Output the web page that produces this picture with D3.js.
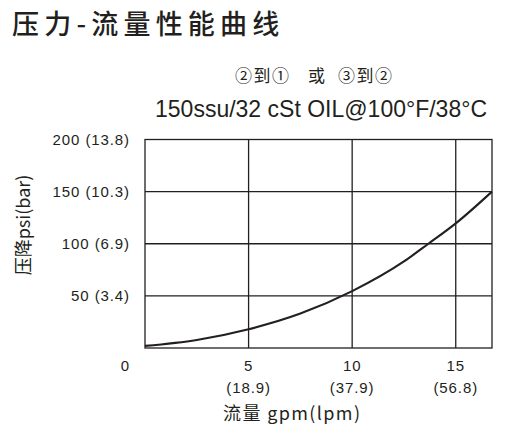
<!DOCTYPE html>
<html>
<head>
<meta charset="utf-8">
<script src="https://cdn.jsdelivr.net/npm/d3@7/dist/d3.min.js"></script>
<style>
html,body{margin:0;padding:0;background:#fff;}
svg{display:block;}
</style>
</head>
<body>
<svg id="chart" width="521" height="440"></svg>
<script>
// ---- data ----
const flowGpm   = [0, 2.5, 5, 7.5, 10, 12.5, 13.68, 15, 16.75];
const pressPsi  = [2, 7.7, 18, 33, 54.5, 83, 100, 119.5, 150];
const xTicks    = [5, 10, 15];
const xTickSub  = ["(18.9)", "(37.9)", "(56.8)"];
const yTicks    = [50, 100, 150, 200];
const yTickLabels = ["50 (3.4)", "100 (6.9)", "150 (10.3)", "200 (13.8)"];
const titleText = "压力-流量性能曲线";
const subTitle1Parts = ["②到①", "或", "③到②"];
const subTitle2 = "150ssu/32 cSt OIL@100°F/38°C";
const xTitle    = "流量 gpm(lpm)";
const yTitle    = "压降psi(bar)";

const ink = "#231f20";
const svg = d3.select("#chart");
const L = 145, R = 492, T = 139.5, B = 348;
const x = d3.scaleLinear().domain([0, 16.75]).range([L, R]);
const y = d3.scaleLinear().domain([0, 200]).range([B, T]);

const cjk = "'Noto Sans CJK SC', 'Noto Sans', sans-serif";
const lat = "'Liberation Sans', Arial, sans-serif";

// title
svg.append("text").attr("x", 12).attr("y", 34)
  .attr("font-family", cjk).attr("font-weight", 500)
  .attr("font-size", 27).attr("letter-spacing", 5.2).attr("fill", ink)
  .text(titleText);

// subtitle line 1 (three parts)
const st1 = svg.append("text").attr("y", 82)
  .attr("font-family", cjk).attr("font-size", 17).attr("fill", ink)
  .attr("letter-spacing", 1.5);
const st1x = [235, 308, 338];
subTitle1Parts.forEach((t, i) => st1.append("tspan").attr("x", st1x[i]).text(t));

svg.append("text").attr("x", 155).attr("y", 117)
  .attr("font-family", lat).attr("font-size", 24).attr("fill", ink)
  .attr("textLength", 332).attr("lengthAdjust", "spacingAndGlyphs")
  .text(subTitle2);

// grid
const g = svg.append("g").attr("stroke", ink).attr("stroke-width", 1.3).attr("fill", "none");
g.selectAll("line.v").data(xTicks).join("line")
  .attr("x1", d => x(d)).attr("x2", d => x(d)).attr("y1", T).attr("y2", B);
g.selectAll("line.h").data(yTicks.filter(d => d < 200)).join("line")
  .attr("x1", L).attr("x2", R).attr("y1", d => y(d)).attr("y2", d => y(d));
g.append("rect").attr("x", L).attr("y", T).attr("width", R - L).attr("height", B - T);

// curve
const pts = flowGpm.map((f, i) => [f, pressPsi[i]]);
svg.append("path").datum(pts)
  .attr("fill", "none").attr("stroke", ink).attr("stroke-width", 2.1)
  .attr("d", d3.line().x(d => x(d[0])).y(d => y(d[1])).curve(d3.curveMonotoneX));

// y tick labels
svg.selectAll("text.yt").data(yTicks).join("text")
  .attr("x", 130).attr("y", d => y(d) + 5.5).attr("text-anchor", "end")
  .attr("font-family", lat).attr("font-size", 15).attr("fill", ink)
  .attr("letter-spacing", 0.9)
  .text((d, i) => yTickLabels[i]);

// x tick labels
svg.append("text").attr("x", 125).attr("y", 371).attr("text-anchor", "middle")
  .attr("font-family", lat).attr("font-size", 15).attr("fill", ink).text("0");
svg.selectAll("text.xt").data(xTicks).join("text")
  .attr("x", d => x(d)).attr("y", 371).attr("text-anchor", "middle")
  .attr("font-family", lat).attr("font-size", 15).attr("fill", ink)
  .attr("letter-spacing", 0.8)
  .text(d => d);
svg.selectAll("text.xs").data(xTicks).join("text")
  .attr("x", d => x(d)).attr("y", 393).attr("text-anchor", "middle")
  .attr("font-family", lat).attr("font-size", 15).attr("fill", ink)
  .attr("letter-spacing", 0.9)
  .text((d, i) => xTickSub[i]);

// axis titles
svg.append("text").attr("x", 223).attr("y", 420)
  .attr("font-family", cjk).attr("font-size", 18).attr("fill", ink)
  .attr("textLength", 137).attr("lengthAdjust", "spacing")
  .text(xTitle);

svg.append("text").attr("transform", "translate(30,225) rotate(-90)")
  .attr("text-anchor", "middle")
  .attr("font-family", cjk).attr("font-size", 18).attr("fill", ink)
  .text(yTitle);
</script>
</body>
</html>
